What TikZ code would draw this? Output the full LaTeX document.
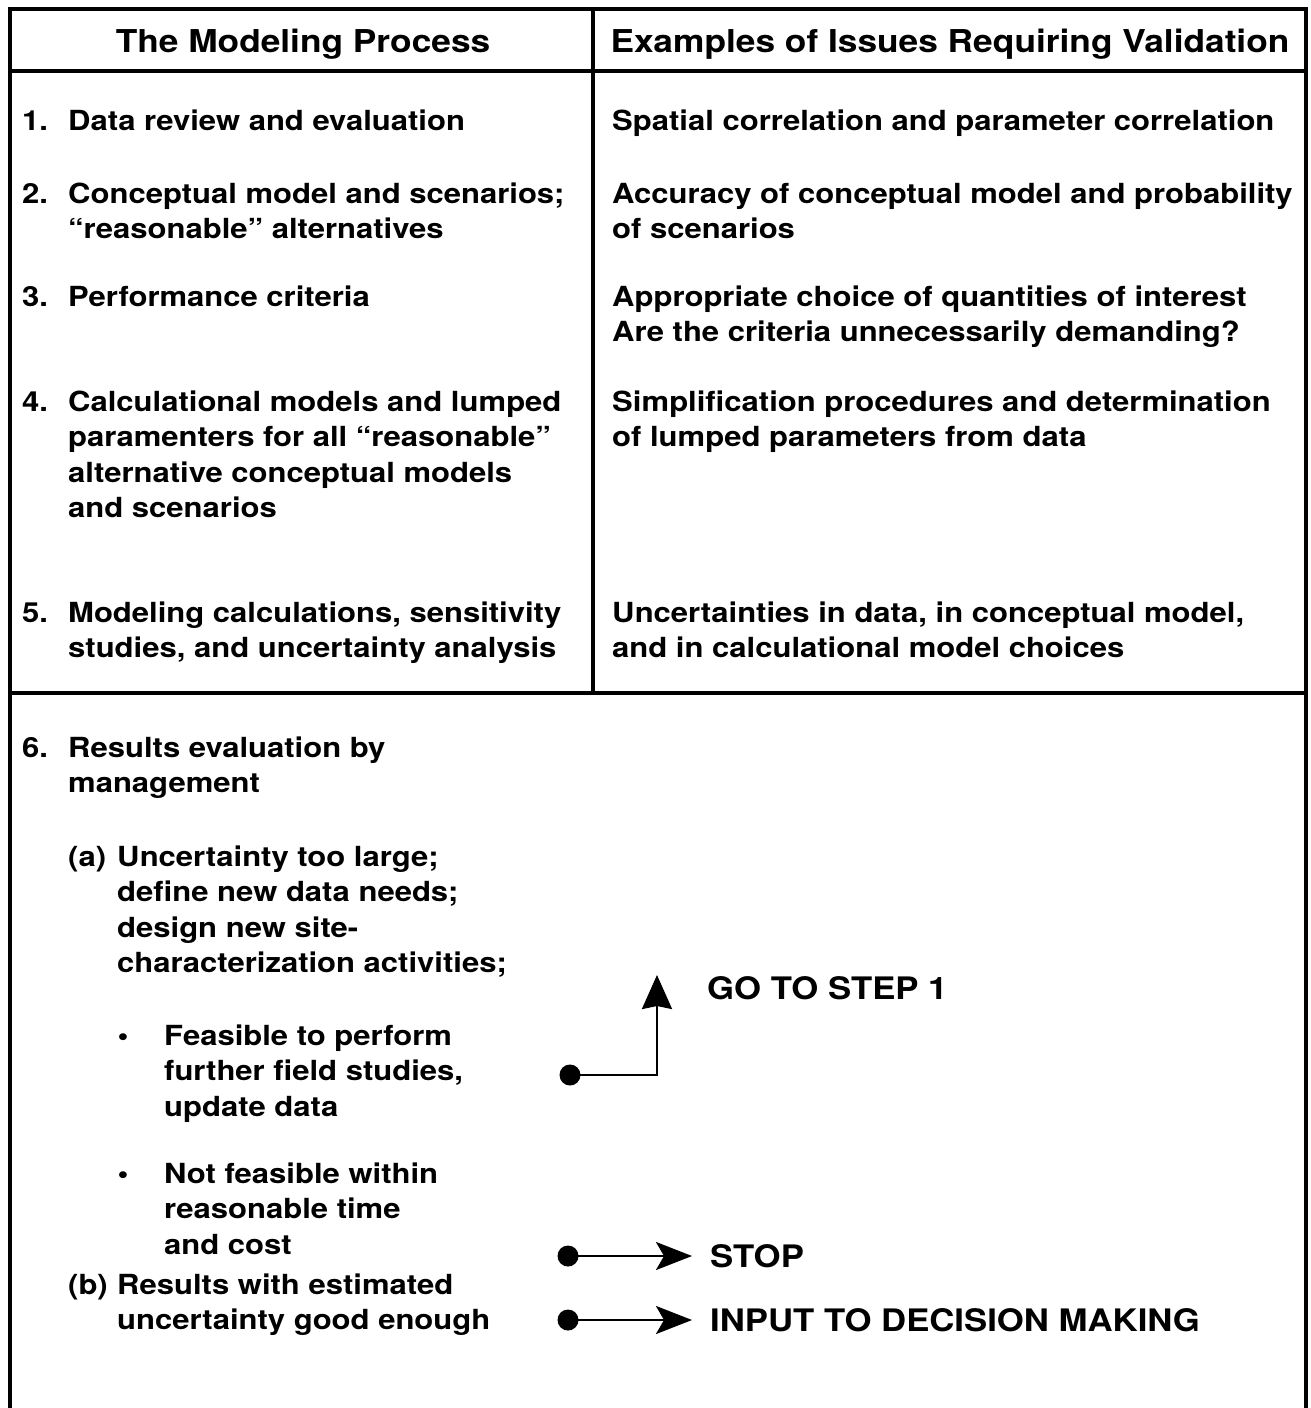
\documentclass[tikz,border=0pt]{standalone}
\usepackage{fontspec}
\setmainfont{TeX Gyre Heros}[FakeStretch=1.12]
\usetikzlibrary{arrows.meta}
\newcommand\mypar[1]{\parbox[t]{720pt}{\raggedright #1}}
\begin{document}
\begin{tikzpicture}[x=1pt,y=-1pt,
  frame/.style={line width=4pt, line cap=rect},
  rule/.style={line width=3.5pt},
  hdr/.style={anchor=base, inner sep=0pt, font=\fontsize{31.5}{38}\selectfont\bfseries},
  txt/.style={anchor=base west, inner sep=0pt, font=\fontsize{27.7}{35.5}\selectfont\bfseries},
  lbl/.style={anchor=base west, inner sep=0pt, font=\fontsize{31}{38}\selectfont\bfseries},
  bul/.style={anchor=base, inner sep=0pt, font=\fontsize{27.7}{35.5}\selectfont\bfseries},
  dotnode/.style={circle, fill=black, inner sep=0pt, minimum size=21pt},
  conn/.style={line width=2.5pt},
  vtip/.style={-{Stealth[length=34pt, width=30pt, inset=3pt]}},
  htip/.style={-{Stealth[length=36pt, width=28pt, inset=8pt]}}]
\useasboundingbox[fill=white] (0,0) rectangle (1310,1408);
% frame and rules
\draw[frame] (10,1408) -- (10,9) -- (1306,9) -- (1306,1408);
\draw[rule] (10,71) -- (1306,71);
\draw[rule] (593,9) -- (593,693);
\draw[rule] (10,693) -- (1306,693);
% header
\node[hdr] (h1) at (303,52) {The Modeling Process};
\node[hdr] (h2) at (950,52) {Examples of Issues Requiring Validation};
% rows
\node[txt] (n1) at (22,130) {1.};
\node[txt] (t1) at (68,130) {\mypar{Data review and evaluation}};
\node[txt] (r1) at (612,130) {\mypar{Spatial correlation and parameter correlation}};
\node[txt] (n2) at (22,203) {2.};
\node[txt] (t2) at (68,203) {\mypar{Conceptual model and scenarios;\\“reasonable” alternatives}};
\node[txt] (r2) at (612,203) {\mypar{Accuracy of conceptual model and probability\\of scenarios}};
\node[txt] (n3) at (22,306) {3.};
\node[txt] (t3) at (68,306) {\mypar{Performance criteria}};
\node[txt] (r3) at (612,306) {\mypar{Appropriate choice of quantities of interest\\Are the criteria unnecessarily demanding?}};
\node[txt] (n4) at (22,411) {4.};
\node[txt] (t4) at (68,411) {\mypar{Calculational models and lumped\\paramenters for all “reasonable”\\alternative conceptual models\\and scenarios}};
\node[txt] (r4) at (612,411) {\mypar{Simplification procedures and determination\\of lumped parameters from data}};
\node[txt] (n5) at (22,622) {5.};
\node[txt] (t5) at (68,622) {\mypar{Modeling calculations, sensitivity\\studies, and uncertainty analysis}};
\node[txt] (r5) at (612,622) {\mypar{Uncertainties in data, in conceptual model,\\and in calculational model choices}};
% lower section
\node[txt] (n6) at (22,757) {6.};
\node[txt] (t6) at (68,757) {\mypar{Results evaluation by\\management}};
\node[txt] (la) at (68,866) {(a)};
\node[txt] (ta) at (117,866) {\mypar{Uncertainty too large;\\define new data needs;\\design new site-\\characterization activities;}};
\node[bul] (b1) at (123,1045) {•};
\node[txt] (tb1) at (164,1045) {\mypar{Feasible to perform\\further field studies,\\update data}};
\node[bul] (b2) at (123,1183) {•};
\node[txt] (tb2) at (164,1183) {\mypar{Not feasible within\\reasonable time\\and cost}};
\node[txt] (lb) at (68,1294) {(b)};
\node[txt] (tb) at (117,1294) {\mypar{Results with estimated\\uncertainty good enough}};
% outcomes
\node[lbl] (go) at (707,999) {GO TO STEP 1};
\node[lbl] (stop) at (710,1267) {STOP};
\node[lbl] (input) at (710,1331) {INPUT TO DECISION MAKING};
\node[dotnode] (d1) at (570,1075) {};
\node[dotnode] (d2) at (568,1256) {};
\node[dotnode] (d3) at (568,1320) {};
\coordinate (k1) at (657,1075);
\coordinate (e1) at (657,975);
\coordinate (e2) at (692,1256);
\coordinate (e3) at (692,1320);
\draw[conn, vtip] (d1.center) -- (k1) -- (e1);
\draw[conn, htip] (d2.center) -- (e2);
\draw[conn, htip] (d3.center) -- (e3);
\end{tikzpicture}
\end{document}
